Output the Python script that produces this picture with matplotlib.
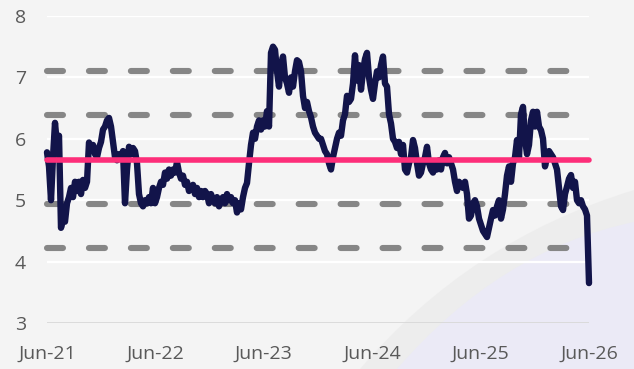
import matplotlib
matplotlib.use("Agg")
import matplotlib.pyplot as plt
import matplotlib.dates as mdates
from matplotlib.path import Path
from matplotlib.patches import PathPatch
import numpy as np
import pandas as pd

# ---------------- data ----------------
start_date = "2021-06-01"
end_date = "2026-06-01"
values = [
    5.78, 5.55, 5.0, 5.7, 6.26, 5.9, 6.05, 4.55, 4.7, 4.65,
    4.95, 5.05, 5.2, 5.05, 5.3, 5.15, 5.3, 5.1, 5.33, 5.2,
    5.3, 5.94, 5.85, 5.9, 5.75, 5.7, 5.85, 5.95, 6.15, 6.2,
    6.3, 6.34, 6.2, 5.95, 5.7, 5.65, 5.75, 5.7, 5.8, 4.95,
    5.5, 5.87, 5.75, 5.85, 5.8, 5.6, 5.1, 4.95,
    4.9, 5.0, 4.95, 5.05, 4.95, 5.2, 4.95, 5.05, 5.2, 5.3,
    5.25, 5.45, 5.35, 5.5, 5.4, 5.5, 5.45, 5.62, 5.45, 5.35,
    5.4, 5.25, 5.3, 5.15, 5.2, 5.25, 5.1, 5.2, 5.05, 5.15,
    5.05, 5.15, 5.1, 4.95, 5.1, 5.0, 4.95, 5.05, 4.9, 5.0,
    5.05, 4.95, 5.1, 5.0, 5.05, 4.95, 5.0, 4.8, 4.95, 4.85,
    5.05, 5.2, 5.28, 5.6,
    5.9, 6.1, 6.0, 6.2, 6.3, 6.15, 6.3, 6.2, 6.45, 6.2,
    7.4, 7.5, 7.45, 7.1, 6.85, 7.2, 7.34, 7.0, 6.9, 6.75,
    7.0, 6.85, 7.1, 7.28, 7.25, 7.1, 6.7, 6.5, 6.6, 6.45,
    6.35, 6.2, 6.1, 6.05, 6.0, 6.0, 5.9, 5.8, 5.75, 5.6,
    5.5, 5.7, 5.85, 6.0, 6.1, 6.05, 6.3, 6.4, 6.7, 6.6,
    6.65, 6.9, 7.36, 6.95, 7.2, 6.8, 7.1, 7.3, 7.4, 7.0,
    6.8, 6.65, 6.9, 7.1, 7.0, 7.2, 7.34, 6.9, 6.85, 6.4,
    6.25, 6.0, 5.95, 5.85, 5.95, 5.75, 5.9, 5.5, 5.45, 5.6,
    5.7, 5.98, 5.85, 5.6, 5.4, 5.45, 5.6, 5.7, 5.87, 5.6,
    5.5, 5.45, 5.6, 5.5, 5.65, 5.5, 5.7, 5.77, 5.6, 5.7,
    5.6, 5.5, 5.3, 5.15, 5.3, 5.25, 5.2, 5.3, 5.1, 4.7,
    4.75, 4.95, 5.0, 4.9, 4.7, 4.6, 4.5, 4.45, 4.4, 4.55,
    4.7, 4.84, 4.75, 4.9, 5.0, 4.7, 4.85, 5.1, 5.4, 5.55,
    5.3, 5.6, 5.7, 5.98, 5.7, 6.4, 6.52, 6.0, 5.75, 5.9,
    6.3, 6.44, 6.2, 6.44, 6.2, 6.14, 6.0, 5.55, 5.7, 5.8,
    5.75, 5.7, 5.6, 5.5, 5.2, 4.9, 4.84, 5.1, 5.22, 5.35,
    5.41, 5.2, 5.3, 5.0, 4.95, 5.0, 4.9, 4.85, 4.75, 3.65,
]
mean_level = 5.66
band_levels = [7.10, 6.38, 4.94, 4.22]
y_ticks = [3, 4, 5, 6, 7, 8]
x_tick_dates = ["2021-06-01", "2022-06-01", "2023-06-01",
                "2024-06-01", "2025-06-01", "2026-06-01"]

dates = pd.date_range(start_date, end_date, periods=len(values))

# ---------------- figure ----------------
plt.rcParams['font.family'] = ['Open Sans', 'DejaVu Sans']
plt.rcParams['lines.scale_dashes'] = False

W, H = 634, 369
fig = plt.figure(figsize=(W / 100, H / 100), dpi=100)
fig.patch.set_facecolor('#f4f4f4')

# background axes for the decorative swoosh (pixel coordinates, y downwards)
bg = fig.add_axes([0, 0, 1, 1], zorder=0)
bg.set_xlim(0, W)
bg.set_ylim(H, 0)
bg.axis('off')
bg.set_facecolor('none')

shade_verts = [(360, 369), (470, 240), (634, 190), (634, 369), (360, 369)]
bg.add_patch(PathPatch(Path(shade_verts, [Path.MOVETO, Path.CURVE3, Path.CURVE3,
                                          Path.LINETO, Path.CLOSEPOLY]),
                       facecolor='#ebebeb', edgecolor='none', alpha=0.7))
swoosh_verts = [(397, 369), (500, 250), (634, 222), (634, 369), (397, 369)]
bg.add_patch(PathPatch(Path(swoosh_verts, [Path.MOVETO, Path.CURVE3, Path.CURVE3,
                                           Path.LINETO, Path.CLOSEPOLY]),
                       facecolor='#ebeaf6', edgecolor='none'))

ax = fig.add_axes([47 / W, 1 - 323 / H, (589 - 47) / W, (323 - 16) / H], zorder=1)
ax.set_facecolor('none')

x0 = pd.Timestamp(start_date)
x1 = pd.Timestamp(end_date)
ax.set_xlim(x0, x1)
ax.set_ylim(3, 8)

# grid lines
for yv in y_ticks:
    if yv == 3:
        ax.axhline(yv, color='#d9d9d9', lw=1.3, zorder=1)
    else:
        ax.axhline(yv, color='white', lw=1.6, zorder=1)

# std bands
for lv in band_levels:
    ax.plot([x0, x1], [lv, lv], color='#868686', lw=4.4,
            linestyle=(0, (11.5, 18.7)), dash_capstyle='round',
            solid_capstyle='round', zorder=2, clip_on=False)

# series
ax.plot(dates, values, color='#12144a', lw=4.6, solid_joinstyle='round',
        solid_capstyle='round', zorder=3, clip_on=False)

# mean
ax.plot([x0, x1], [mean_level, mean_level], color='#fd2e79', lw=4.0,
        solid_capstyle='round', zorder=4, clip_on=False)

for s in ax.spines.values():
    s.set_visible(False)

ax.set_yticks(y_ticks)
ax.set_yticklabels([str(v) for v in y_ticks])
ax.set_xticks([pd.Timestamp(d) for d in x_tick_dates])
ax.xaxis.set_major_formatter(mdates.DateFormatter('%b-%y'))
ax.tick_params(axis='both', length=0, labelsize=14, labelcolor='#595959')
ax.tick_params(axis='y', pad=15)
ax.tick_params(axis='x', pad=16)

fig.savefig('out.png', dpi=100, facecolor=fig.get_facecolor())
